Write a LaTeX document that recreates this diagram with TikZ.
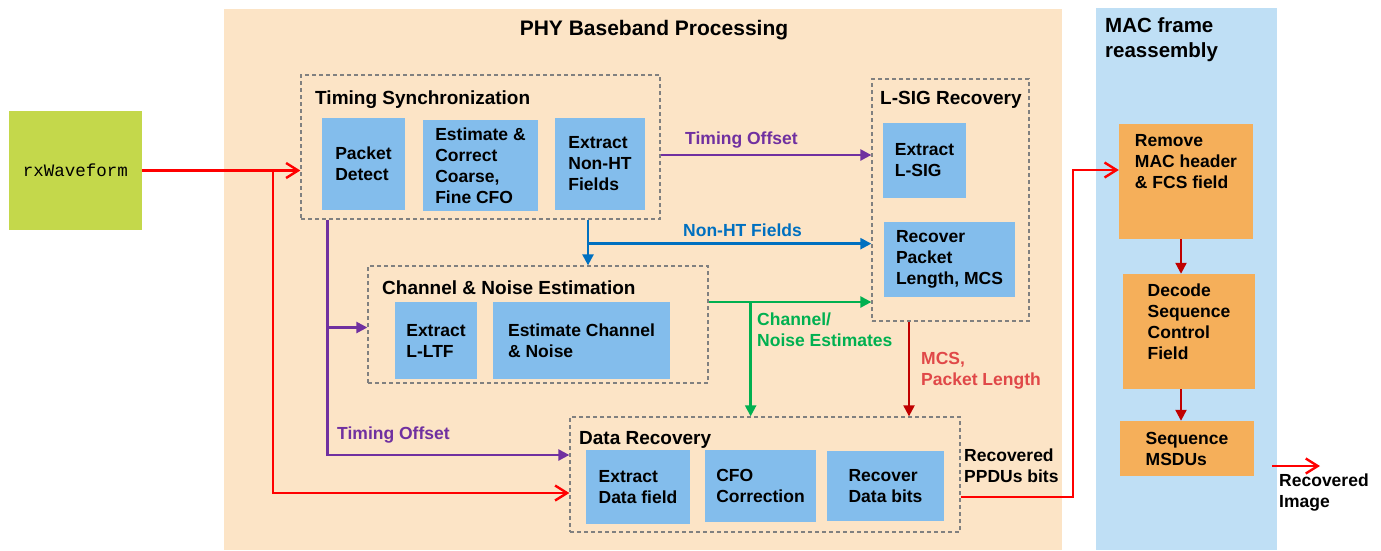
\documentclass[tikz,border=0pt]{standalone}
\usepackage{fontspec}
\setmainfont{Liberation Sans}
\setmonofont{Liberation Mono}
\usetikzlibrary{arrows.meta}

\definecolor{Cbeige}{HTML}{FCE4C6}
\definecolor{Cmacblue}{HTML}{BFDFF5}
\definecolor{Cboxblue}{HTML}{83BDEC}
\definecolor{Corange}{HTML}{F5AF5A}
\definecolor{Clime}{HTML}{C4D84B}
\definecolor{Cpurple}{HTML}{7030A0}
\definecolor{Cblue}{HTML}{0070C0}
\definecolor{Cgreen}{HTML}{00B050}
\definecolor{Cdarkred}{HTML}{C00000}
\definecolor{Cred}{HTML}{FF0000}
\definecolor{Clabelred}{HTML}{E04848}

\tikzset{
	bodyfont/.style={font=\bfseries\fontsize{17.5}{21}\selectfont},
	procbox/.style={bodyfont, fill=Cboxblue, align=left, inner sep=0pt},
	macbox/.style={bodyfont, fill=Corange, align=left, inner sep=0pt},
	groupbox/.style={draw=black!50, dash pattern=on 4pt off 3pt, line width=1.3pt},
	grouptitle/.style={font=\bfseries\fontsize{19}{23}\selectfont, anchor=base west, inner sep=0pt},
	flowlabel/.style={bodyfont, align=left, inner sep=0pt, anchor=north west},
	redline/.style={Cred, line width=2.4pt, -{Straight Barb[length=12pt,width=15pt]}},
	tipline/.style={line width=2.4pt, -{Triangle[length=11pt,width=11pt]}},
}

\begin{document}
\begin{tikzpicture}[x=1pt,y=-1pt]
	\useasboundingbox (0,0) rectangle (1381,550);
	% panels
	\fill[Cbeige] (224,9) rectangle (1062,550);
	\fill[Cmacblue] (1096,8) rectangle (1277,550);
	\node[font=\bfseries\fontsize{21}{25}\selectfont, anchor=base, inner sep=0pt] (phytitle) at (654,35) {PHY Baseband Processing};
	\node[font=\bfseries\fontsize{20.5}{25}\selectfont, anchor=north west, align=left, inner sep=0pt] (mactitle) at (1105,17) {MAC frame\\reassembly};

	\node[fill=Clime, minimum width=133, minimum height=119, font=\ttfamily\fontsize{17.5}{21}\selectfont] (rxw) at (75.5,170.5) {rxWaveform};

	% dashed groups
	\node[groupbox, minimum width=359, minimum height=144] (tsync) at (480.5,147) {};
	\node[groupbox, minimum width=157, minimum height=242] (lsig) at (950.5,200) {};
	\node[groupbox, minimum width=340, minimum height=117] (chest) at (538,324.5) {};
	\node[groupbox, minimum width=390, minimum height=115] (datarec) at (765,474.5) {};
	\node[grouptitle] (tsynctitle) at (315,104) {Timing Synchronization};
	\node[grouptitle] (lsigtitle) at (880,104) {L-SIG Recovery};
	\node[grouptitle] (chesttitle) at (382,294) {Channel \& Noise Estimation};
	\node[grouptitle] (datarectitle) at (579,444) {Data Recovery};

	% processing blocks
	\node[procbox, minimum width=83, minimum height=92] (pdet) at (363.5,164) {Packet\\Detect};
	\node[procbox, minimum width=115, minimum height=91] (cfo) at (480.5,165.5) {Estimate \&\\Correct\\Coarse,\\Fine CFO};
	\node[procbox, minimum width=90, minimum height=92] (nonht) at (600,164) {Extract\\Non-HT\\Fields};
	\node[procbox, minimum width=83, minimum height=75] (lsigx) at (924.5,160.5) {Extract\\L-SIG};
	\node[procbox, minimum width=131, minimum height=75] (lenmcs) at (949.5,259.5) {Recover\\Packet\\Length, MCS};
	\node[procbox, minimum width=82, minimum height=77] (lltf) at (436,340.5) {Extract\\L-LTF};
	\node[procbox, minimum width=177, minimum height=77] (chnoise) at (581.5,340.5) {Estimate Channel\\\& Noise};
	\node[procbox, minimum width=104, minimum height=74] (datafld) at (638,487) {Extract\\Data field};
	\node[procbox, minimum width=111, minimum height=72] (cfocorr) at (760.5,486) {CFO\\Correction};
	\node[procbox, minimum width=117, minimum height=70] (databits) at (885.5,486) {Recover\\Data bits};

	\node[macbox, minimum width=134, minimum height=115] (remove) at (1186,181.5) {Remove\\MAC header\\\& FCS field\rule[-40pt]{0pt}{0pt}};
	\node[macbox, minimum width=132, minimum height=115] (decode) at (1189,331.5) {Decode\\Sequence\\Control\\Field\rule[-20pt]{0pt}{0pt}};
	\node[macbox, minimum width=134, minimum height=55] (seq) at (1187,448.5) {Sequence\\MSDUs};

	% labels
	\node[bodyfont, Cpurple, anchor=base west, inner sep=0pt] (toffup) at (685,144) {Timing Offset};
	\node[bodyfont, Cblue, anchor=base west, inner sep=0pt] (nhtlbl) at (683,236) {Non-HT Fields};
	\node[flowlabel, Cgreen] (chlbl) at (757,313) {Channel/\\Noise Estimates};
	\node[flowlabel, Clabelred] (mcslbl) at (921,352.5) {MCS,\\Packet Length};
	\node[bodyfont, Cpurple, anchor=base west, inner sep=0pt] (toffdn) at (337,439) {Timing Offset};
	\node[flowlabel] (ppdulbl) at (964,449) {Recovered\\PPDUs bits};
	\node[flowlabel] (imglbl) at (1279,474) {Recovered\\Image};

	% connectors
	\coordinate (rsplit) at (273,170.5);
	\coordinate (drin) at ([yshift=-18.5pt]datarec.west);
	\draw[redline] (rxw.east) -- (rxw.east -| tsync.west);
	\draw[redline] (rsplit) |- (drin);

	\coordinate (toff) at ([yshift=-8pt]tsync.east);
	\coordinate (tdown) at ([xshift=27pt]tsync.south west);
	\coordinate (drto) at ([yshift=19.5pt]datarec.west);
	\draw[tipline, Cpurple] (toff) -- (toff -| lsig.west);
	\draw[tipline, Cpurple] (tdown) |- (drto);
	\draw[tipline, Cpurple] ([yshift=-3pt]tdown |- chest.west) -- ([yshift=-3pt]chest.west);

	\coordinate (nht) at ([xshift=107.5pt]tsync.south);
	\coordinate (nhtsplit) at ([yshift=-24pt]nht);
	\draw[tipline, Cblue] (nht) -- (nht |- chest.north);
	\draw[tipline, Cblue] (nhtsplit) -- (nhtsplit -| lsig.west);

	\coordinate (chout) at ([yshift=22.5pt]chest.east);
	\coordinate (chsplit) at ([xshift=42pt]chout);
	\draw[tipline, Cgreen] (chout) -- (chout -| lsig.west);
	\draw[tipline, Cgreen] (chsplit) -- (chsplit |- datarec.north);

	\coordinate (mcsout) at ([xshift=-41.5pt]lsig.south);
	\draw[tipline, Cdarkred, line width=2.2pt] (mcsout) -- (mcsout |- datarec.north);

	\coordinate (ppdu) at ([yshift=-22.5pt]datarec.east);
	\coordinate (macin) at ([yshift=11.5pt]remove.west);
	\draw[redline] (ppdu) -| ([xshift=-46pt]macin) -- (macin);

	\draw[tipline, Cdarkred, line width=2.2pt] ([xshift=-5pt]remove.south) -- ([xshift=-5pt]remove.south |- decode.north);
	\draw[tipline, Cdarkred, line width=2.2pt] ([xshift=-8pt]decode.south) -- ([xshift=-8pt]decode.south |- seq.north);

	\coordinate (imgout) at (1272,466);
	\coordinate (imgend) at (1320,466);
	\draw[redline] (imgout) -- (imgend);
\end{tikzpicture}
\end{document}
